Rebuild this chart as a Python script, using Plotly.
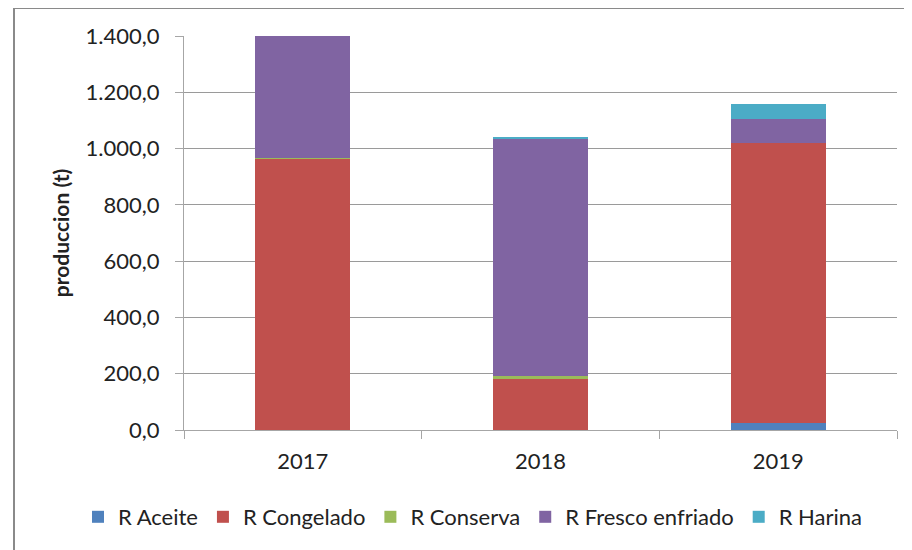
import plotly.graph_objects as go

years = ["2017", "2018", "2019"]
aceite = [0, 0, 24]
congelado = [963, 182, 996]
conserva = [2, 10, 0]
fresco = [439, 842, 86]
harina = [0, 4, 51]

series = [
    ("R Aceite", aceite, "#4F81BD"),
    ("R Congelado", congelado, "#C0504D"),
    ("R Conserva", conserva, "#9BBB59"),
    ("R Fresco enfriado", fresco, "#8064A2"),
    ("R Harina", harina, "#4BACC6"),
]

FONT = "Lato"
fig = go.Figure()
for name, vals, col in series:
    fig.add_trace(go.Bar(x=years, y=vals, name=name, marker=dict(color=col, line=dict(width=0))))

# invisible trace for category-boundary ticks on overlay axis
fig.add_trace(go.Scatter(x=[-0.5, 2.5], y=[0, 0], xaxis="x2", mode="markers",
                         marker=dict(opacity=0), showlegend=False, hoverinfo="skip"))

# page body has an 8px margin; figure coords = page coords - 8
OFF = 8
W, H = 912 - OFF, 550 - OFF
L, R, T, B = 184 - OFF, 897 - OFF, 36 - OFF, 430 - OFF
pw, ph = R - L, B - T

def px(x):
    return (x - OFF - L) / pw

def py(y):
    return (B - (y - OFF)) / ph

fig.update_layout(
    width=W, height=H,
    margin=dict(l=L, r=W - R, t=T, b=H - B, autoexpand=False),
    barmode="stack", bargap=0.6,
    plot_bgcolor="white", paper_bgcolor="white",
    separators=",.",
    font=dict(family=FONT, size=22, color="#222"),
    xaxis=dict(type="category", showgrid=False, ticks="", showline=True,
               linecolor="#a6a6a6", linewidth=1, tickfont=dict(size=22), ticklabelstandoff=12),
    xaxis2=dict(overlaying="x", range=[-0.5, 2.5], tickvals=[-0.5, 0.5, 1.5, 2.5],
                ticks="outside", ticklen=8, tickcolor="#a6a6a6", showticklabels=False,
                showgrid=False, showline=False, zeroline=False, side="bottom", anchor="y"),
    yaxis=dict(range=[0, 1400], dtick=200, tickformat=",.1f", showgrid=True,
               gridcolor="#9a9a9a", gridwidth=1, showline=True, linecolor="#a6a6a6",
               ticks="outside", ticklen=8, tickcolor="#a6a6a6", zeroline=False,
               tickfont=dict(size=22), ticklabelstandoff=11,
               title=dict(text="<b>produccion (t)</b>", font=dict(size=21), standoff=10)),
    legend=dict(orientation="h", x=px(78), xanchor="left",
                y=py(517), yanchor="middle",
                font=dict(size=22), traceorder="normal", itemwidth=30, tracegroupgap=0),
    shapes=[
        dict(type="line", xref="paper", yref="paper", x0=px(14), x1=px(14), y0=py(8), y1=py(560),
             line=dict(color="#8a8a8a", width=2)),
        dict(type="line", xref="paper", yref="paper", x0=px(14), x1=px(920), y0=py(8), y1=py(8),
             line=dict(color="#8a8a8a", width=2)),
    ],
)

fig.write_html("out.html")
